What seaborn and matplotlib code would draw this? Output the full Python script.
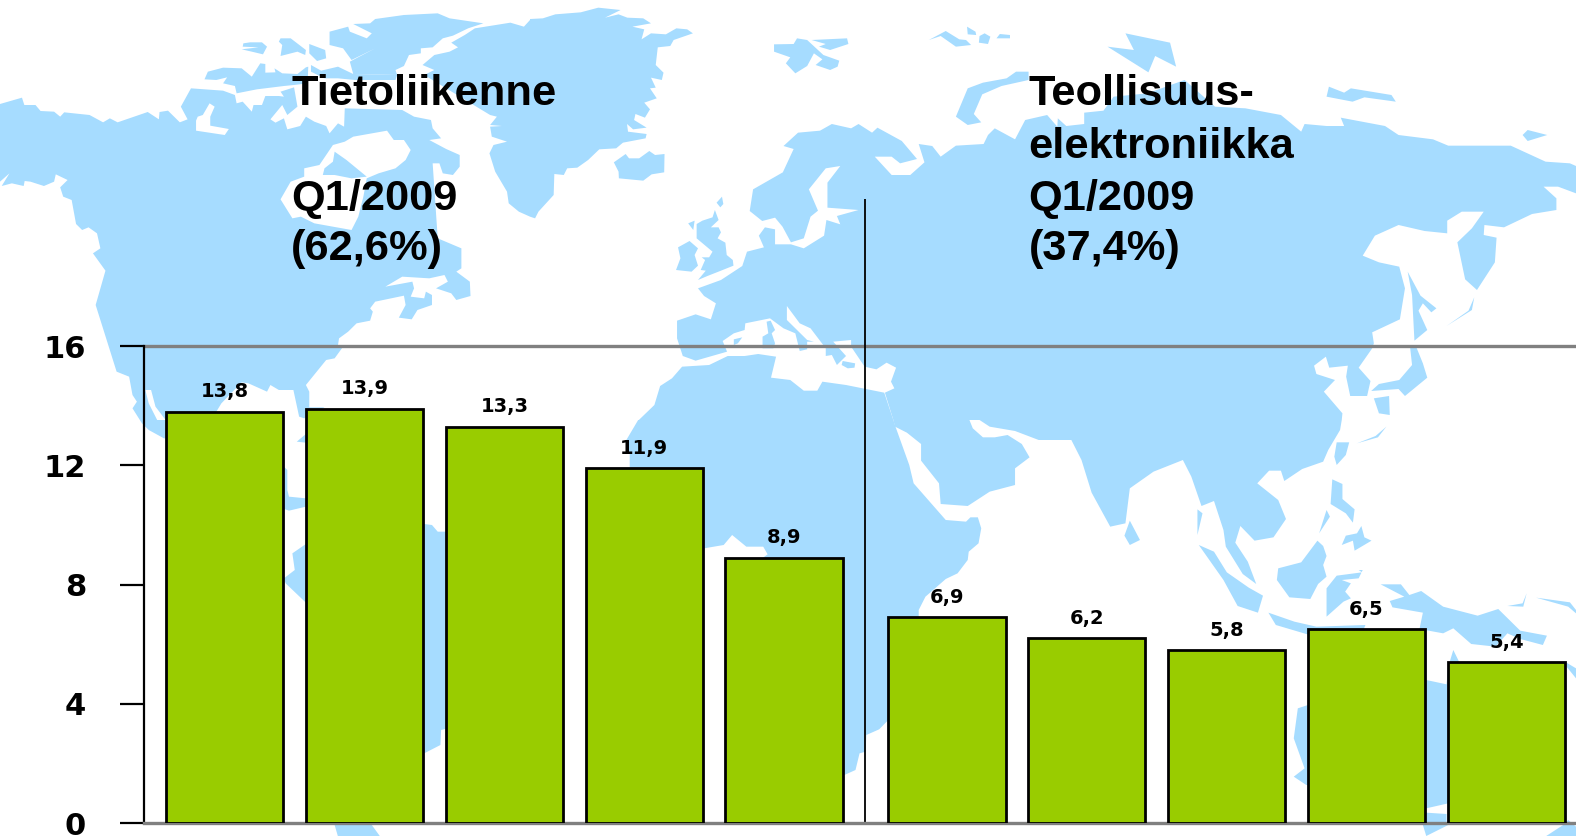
import matplotlib
matplotlib.use("Agg")
import matplotlib.pyplot as plt
import numpy as np
import pandas as pd
import seaborn as sns

# ---- chart data ----
values_tele = [13.8, 13.9, 13.3, 11.9, 8.9]
values_ind = [6.9, 6.2, 5.8, 6.5, 5.4]
y_ticks = [0, 4, 8, 12, 16]
left_title = ["Tietoliikenne", "", "Q1/2009", "(62,6%)"]
right_title = ["Teollisuus-", "elektroniikka", "Q1/2009", "(37,4%)"]

GREEN = "#99CC00"
LAND = "#A6DCFF"
W, H = 1576, 836
sns.set_theme(style="white")
plt.rcParams["font.family"] = ["Liberation Sans", "DejaVu Sans"]

def T(ox, pts, dy=0):
    return [(ox + x / 2.9585, (y + dy) / 3) for x, y in pts]

# ---- background world map (decorative outline, traced) ----
north_america = T(0, [(0,312),(65,293),(72,315),(105,315),(120,333),(160,335),(178,350),(190,337),(265,345),(305,367),(325,355),(348,367),(437,336),(470,358),(472,336),(497,332),(532,367),(555,358),(535,320),(565,265),(660,272),(695,285),(700,310),(718,305),(745,335),(750,315),(775,315),(785,288),(825,288),(840,290),(830,275),(870,262),(880,320),(850,345),(835,315),(800,358),(815,368),(840,355),(850,388),(888,378),(905,350),(930,365),(965,378),(975,400),(1000,370),(1018,380),(1020,325),(1190,330),(1225,350),(1275,360),(1280,385),(1305,415),(1270,420),(1320,447),(1360,465),(1360,500),(1340,525),(1310,520),(1300,490),(1280,490),(1290,640),(1295,715),(1365,745),(1365,805),(1350,815),(1390,845),(1392,888),(1350,900),(1335,880),(1290,865),(1325,845),(1315,825),(1270,835),(1190,830),(1140,860),(1220,845),(1225,865),(1215,890),(1255,895),(1260,875),(1278,885),(1278,915),(1235,930),(1218,958),(1180,953),(1200,915),(1195,887),(1110,905),(1095,925),(1103,935),(1095,962),(1055,970),(1030,995),(1003,1015),(1000,1035),(1015,1040),(990,1075),(965,1080),(905,1155),(915,1175),(915,1222),(960,1222),(900,1255),(885,1250),(868,1170),(825,1170),(800,1155),(790,1175),(735,1150),(715,1147),(655,1210),(640,1235),(600,1320),(485,1315),(440,1290),(420,1270),(392,1225),(405,1205),(392,1185),(382,1130),(345,1115),(283,915),(312,812),(275,760),(297,745),(287,700),(262,682),(243,690),(225,672),(212,600),(187,590),(178,562),(200,540),(165,523),(160,545),(130,558),(90,545),(73,543),(70,558),(35,550),(5,558),(28,520),(0,545)])
hudson = T(0, [(1020,425),(1045,410),(1145,392),(1165,420),(1195,420),(1215,450),(1200,480),(1170,505),(1120,520),(1085,535),(1075,590),(1060,650),(1040,690),(930,670),(890,650),(865,655),(830,598),(860,545),(900,530),(900,505),(945,495),(985,435)])
hudson_inner = T(0, [(990,455),(1025,480),(1085,530),(1040,535),(990,525),(955,525),(960,505),(985,485)])
arctic_bay = T(0, [(580,362),(585,350),(600,345),(620,310),(635,320),(622,350),(622,377),(677,387),(665,405),(580,392)])
baja = T(0, [(430,1170),(447,1170),(460,1220),(490,1260),(465,1260),(440,1210)])
canada_islands = [T(0, p) for p in [
    [(605,238),(615,215),(660,203),(715,205),(745,230),(770,190),(785,192),(785,218),(815,217),(812,205),(835,220),(880,222),(905,202),(912,200),(910,250),(870,255),(840,258),(760,268),(700,280),(695,258),(660,250),(672,232),(640,240)],
    [(720,130),(740,127),(775,127),(790,140),(778,163),(745,155),(715,148),(765,142),(718,140)],
    [(830,115),(860,115),(905,150),(903,165),(880,155),(830,168),(835,135),(825,125)],
    [(915,132),(962,150),(965,175),(938,183),(915,160)],
    [(920,195),(950,212),(1000,200),(1045,222),(1175,225),(1170,240),(1050,240),(1000,235),(960,235),(920,215)],
    [(975,95),(1030,80),(1035,95),(1085,115),(1100,100),(1045,72),(1095,70),(1110,57),(1195,45),(1295,40),(1330,55),(1430,70),(1385,85),(1340,107),(1310,115),(1280,142),(1245,145),(1245,160),(1210,165),(1195,198),(1170,210),(1175,225),(1045,222),(1035,185),(1110,145),(1040,180),(1015,145),(975,135)],
]]
greenland = T(530, [(0,650),(15,655),(25,635),(70,585),(72,522),(100,525),(110,505),(140,503),(172,480),(205,448),(255,445),(275,428),(342,415),(345,402),(290,395),(287,372),(305,388),(345,383),(308,360),(312,342),(340,353),(355,328),(338,308),(375,295),(355,265),(372,263),(358,233),(390,240),(395,218),(372,195),(378,142),(415,138),(425,120),(482,100),(465,88),(433,85),(402,103),(358,100),(330,118),(338,88),(303,80),(358,70),(335,55),(288,53),(262,43),(222,53),(268,30),(202,23),(150,37),(75,43),(38,55),(0,57)]) + \
    T(0, [(1568,60),(1550,80),(1510,68),(1405,85),(1375,105),(1335,128),(1355,142),(1330,155),(1285,165),(1250,195),(1285,210),(1255,225),(1450,345),(1470,350),(1450,375),(1485,378),(1450,380),(1455,410),(1500,425),(1460,435),(1448,460),(1465,515),(1500,575),(1505,610),(1535,635),(1568,650)])
central_america = [T(0, [(840,140),(850,150),(850,210),(855,230),(905,235),(905,260),(855,272),(835,265)], 1260),
                   T(0, [(878,65),(905,42),(905,68)], 1260)]
south_america = T(0, [(905,372),(865,400),(872,450),(840,475),(845,490),(905,548),(990,1215),(1000,1250),(1125,1250),(1100,1215),(1255,1000),(1303,975),(1305,930),(1325,925),(1325,335),(1295,335),(1278,315),(1255,312),(1100,300)], 1260)
eurasia = T(530, [(750,438),(793,398),(858,392),(893,372),(950,385),(972,372),(1012,398),(1028,383),(1100,423),(1145,477),(1095,490),(1070,470),(1020,470),(1070,525),(1125,525),(1167,487),(1150,432),(1190,438),(1215,470),(1260,437),(1342,432),(1355,405),(1375,385),(1435,418),(1465,360),(1530,345),(1560,380)]) + \
    T(1046, [(35,355),(60,378),(113,372),(113,338),(170,332),(200,290),(300,280),(410,240),(500,320),(590,325),(695,345),(755,395),(765,372),(830,378),(882,378),(872,353),(1003,378),(1043,405),(1145,418),(1190,437),(1375,437),(1478,485),(1550,490),(1568,498),(1568,580),(1515,560),(1472,560),(1510,595),(1510,630),(1438,642),(1355,682),(1297,675),(1295,705),(1333,713),(1328,787),(1275,870),(1240,838),(1217,727),(1260,685),(1295,635),(1230,635),(1187,662),(1187,700),(1120,693),(1043,675),(973,707),(937,767),(985,787),(1045,800),(1062,865),(1047,958),(965,997),(970,1030),(965,1045),(925,1103),(960,1143),(950,1188),(900,1188),(888,1130),(893,1097),(838,1103),(828,1070),(793,1097),(800,1122),(855,1140),(822,1175),(877,1240),(875,1260)]) + \
    T(1046, [(870,30),(835,90),(820,125),(758,147),(705,183),(695,152),(660,152),(625,190),(687,240),(710,297),(673,352),(617,362),(575,318),(560,368),(597,425),(622,492),(582,462),(532,380),(525,330),(497,243),(460,258),(430,170),(405,120),(318,155),(248,205),(235,310),(190,320),(135,218),(105,120),(75,60),(0,60)], 1260) + \
    T(530, [(1505,60),(1435,33),(1360,20),(1330,0),(1300,0),(1310,25),(1340,52),(1375,52),(1413,45),(1455,72),(1478,112),(1435,145),(1435,195),(1360,215),(1295,258),(1215,252),(1210,190),(1157,122),(1157,72),(1115,38),(1080,20),(1075,0)], 1260) + \
    T(530, [(1050,1178),(1078,1165),(1068,1145),(1083,1103),(1055,1088),(1025,1108),(990,1100),(950,1040),(950,1020),(897,1025),(935,1068),(908,1095),(893,1065),(875,1068),(875,1045),(830,985),(798,970),(760,918),(760,960),(820,1020),(840,1025),(820,1025),(820,1048),(798,1053),(785,1000),(750,985),(710,955),(637,970),(635,990),(603,1000),(570,1023),(583,1055),(490,1082),(452,1068),(435,1015),(435,962),(490,943),(535,958),(550,910),(515,888),(497,865),(565,840),(628,798),(642,755),(692,742),(677,707),(695,682),(725,688),(725,733),(772,733),(810,745),(870,707),(877,660),(918,673),(908,648),(972,630),(880,623),(880,548),(918,498),(875,505),(825,568),(852,632),(830,650),(810,715),(772,727),(747,680),(725,653),(687,663),(650,633),(660,568),(748,517),(780,447)])
africa = T(530, [(322,1260),(368,1215),(385,1158),(420,1135),(450,1100),(530,1095),(585,1068),(635,1068),(675,1062),(728,1070),(713,1133),(770,1140),(810,1172),(850,1172),(865,1145),(935,1155),(1048,1178),(1075,1260)]) + \
    T(530, [(1082,22),(1122,135),(1135,190),(1230,300),(1290,305),(1303,292),(1325,292),(1335,325),(1327,370),(1298,395),(1295,420),(1265,460),(1230,477),(1170,530),(1150,570),(1150,600),(1060,900),(1033,928),(995,945),(993,995),(975,1000),(963,1050),(930,1065),(800,1100),(700,700),(680,420),(703,403),(690,380),(640,380),(598,345),(573,375),(515,385),(400,380),(295,140),(295,100),(285,60),(320,0)], 1260)
islands_z2 = [T(530, p) for p in [
    [(493,672),(510,662),(540,652),(547,630),(558,660),(535,682),(558,682),(565,697),(555,715),(578,728),(582,765),(600,780),(602,797),(565,812),(525,828),(497,840),(520,812),(505,810),(518,780),(508,772),(530,772),(540,755),(493,715)],
    [(438,742),(472,723),(497,745),(487,765),(497,797),(478,815),(432,810),(445,775)],
    [(468,670),(487,662),(483,690)],
    [(552,608),(568,590),(572,612),(563,622)],
    [(248,487),(283,462),(293,475),(323,475),(353,453),(370,465),(398,462),(397,517),(360,523),(335,542),(263,535),(262,515)],
    [(722,133),(780,132),(790,115),(820,120),(868,165),(915,182),(910,200),(888,210),(845,195),(865,178),(840,160),(820,198),(785,220),(757,190),(770,172),(722,155)],
    [(833,120),(938,115),(942,132),(888,150),(855,140),(875,132)],
    [(1180,120),(1230,93),(1270,118),(1290,120),(1305,135),(1260,140),(1215,108)],
    [(1293,80),(1318,95),(1320,105),(1295,103)],
    [(1330,108),(1345,100),(1362,110),(1355,132),(1328,128)],
    [(1380,115),(1390,102),(1420,105),(1420,115)],
    [(1260,350),(1295,265),(1340,248),(1410,235),(1438,215),(1475,215),(1475,240),(1395,258),(1338,283),(1313,342),(1335,367),(1295,375)],
    [(700,965),(712,962),(725,990),(715,1000),(725,1030),(720,1045),(688,1045),(688,1010),(705,1000)],
    [(603,1018),(628,1012),(615,1030),(603,1035)],
    [(925,1083),(962,1090),(960,1103),(940,1105),(922,1095)],
]]
islands_z3 = [T(1046, p) for p in [
    [(182,140),(260,150),(235,100),(367,128),(385,200),(323,168),(303,217)],
    [(830,290),(837,260),(882,278),(902,265),(1022,285),(1035,305),(942,292),(907,305)],
    [(1410,405),(1425,390),(1483,405),(1425,423)],
    [(1070,815),(1108,887),(1155,925),(1140,937),(1115,910),(1102,932),(1128,990),(1090,1022),(1083,885)],
    [(1185,978),(1250,932),(1267,892),(1260,930)],
    [(970,1195),(1015,1188),(1017,1245),(985,1240)],
    [(1077,1040),(1095,1040),(1115,1090),(1128,1133),(1062,1188),(1043,1167),(962,1173),(985,1152),(1045,1140),(1083,1095)],
]]
islands_z6 = [T(1046, p, 1260) for p in [
    [(860,67),(897,67),(887,105),(860,135),(853,110)],
    [(920,70),(975,48),(1007,20),(982,52)],
    [(847,178),(877,192),(877,237),(913,268),(908,308),(887,280),(842,252)],
    [(830,270),(840,290),(808,340)],
    [(875,375),(887,347),(920,340),(933,318),(942,352),(963,362),(913,392),(908,362)],
    [(248,302),(278,360),(248,375),(232,347)],
    [(448,268),(463,280),(448,345)],
    [(452,375),(497,395),(535,457),(600,503),(642,527),(627,578),(567,558),(525,480)],
    [(658,578),(735,605),(800,620),(945,615),(935,640),(780,645),(680,615)],
    [(803,362),(820,378),(830,408),(820,435),(830,470),(805,492),(782,537),(720,532),(683,480),(687,445),(755,427)],
    [(860,467),(935,457),(925,450),(937,450),(925,475),(875,480),(902,490),(885,515),(902,535),(880,545),(830,590),(830,505)],
    [(990,493),(1050,493),(1075,525),(1110,513),(1175,560),(1277,587),(1338,567),(1403,632),(1482,647),(1470,675),(1403,657),(1365,640),(1330,680),(1258,672),(1205,625),(1175,640),(1105,627),(1115,578),(1025,562),(1017,543),(1060,530)],
    [(1365,558),(1410,550),(1422,520),(1412,560)],
    [(1450,533),(1550,547),(1568,570),(1568,580),(1545,560)],
    [(745,865),(790,850),(950,800),(1125,780),(1185,793),(1190,740),(1205,690),(1222,725),(1400,900),(1400,1100),(1190,1150),(1125,1165),(900,1100),(770,1095),(733,1070),(765,1045),(733,955)],
    [(1125,1178),(1185,1182),(1185,1215),(1125,1215)],
    [(1540,728),(1568,745),(1568,775),(1540,740)],
    [(1115,1215),(1190,1215),(1125,1248)],
    [(1480,1248),(1530,1215),(1545,1200),(1568,1220),(1568,1248)],
]]
lands = [north_america, greenland, south_america, eurasia, africa] + canada_islands + central_america + islands_z2 + islands_z3 + islands_z6
seas = [hudson, arctic_bay, baja]

fig = plt.figure(figsize=(W / 100, H / 100), dpi=100, facecolor="white")
bg = fig.add_axes([0, 0, 1, 1], zorder=0)
bg.set_xlim(0, W)
bg.set_ylim(H, 0)
bg.axis("off")
for shape in lands:
    bg.fill(*zip(*shape), color=LAND, lw=0)
for shape in seas:
    bg.fill(*zip(*shape), color="white", lw=0)
bg.fill(*zip(*hudson_inner), color=LAND, lw=0)

# ---- bar chart ----
AX_L, AX_B, AX_T = 143.5, H - 823.3, H - 346.0
ax = fig.add_axes([AX_L / W, AX_B / H, (W - AX_L) / W, (AX_T - AX_B) / H], zorder=1)
ax.patch.set_alpha(0)

group_gap = 0.162
n1, n2 = len(values_tele), len(values_ind)
positions = np.r_[np.arange(n1), np.arange(n1, n1 + n2) + group_gap]
df = pd.DataFrame({"pos": positions, "value": values_tele + values_ind})
sns.barplot(data=df, x="pos", y="value", native_scale=True, width=0.84, color=GREEN,
            saturation=1, edgecolor="black", linewidth=2.0, ax=ax, zorder=3)

unit = 139.9
x0 = (AX_L - 224.6) / unit
ax.set_xlim(x0, x0 + (W - AX_L) / unit)
ax.set_ylim(0, 16)
ax.set_xlabel("")
ax.set_ylabel("")
ax.set_xticks([])
ax.set_yticks(y_ticks)
ax.tick_params(axis="y", length=17.3, width=1.6, color="black", pad=24, left=True)
for lab in ax.get_yticklabels():
    lab.set_fontfamily("DejaVu Sans")
    lab.set_fontweight("bold")
    lab.set_fontsize(22)
    lab.set_color("black")
for s in ("top", "right"):
    ax.spines[s].set_visible(False)
ax.spines["left"].set_color("black")
ax.spines["left"].set_linewidth(1.6)
ax.spines["bottom"].set_color("#808080")
ax.spines["bottom"].set_linewidth(2.4)
ax.axhline(16, color="#808080", lw=2.4, clip_on=False, zorder=1)

mid = (positions[n1 - 1] + positions[n1]) / 2
ax.vlines(mid, 0, 20.93, color="black", lw=1.3, clip_on=False, zorder=2)

labels = [f"{v:.1f}".replace(".", ",") for v in values_tele + values_ind]
ax.bar_label(ax.containers[0], labels=labels, padding=7.5, fontfamily="DejaVu Sans",
             fontweight="bold", fontsize=14, color="black")

baselines = [105, 157.5, 210, 260]
for lines, xpos in ((left_title, 291), (right_title, 1028.6)):
    for line, base in zip(lines, baselines):
        if line:
            fig.text(xpos / W, 1 - base / H, line, fontsize=31.2, fontweight="bold",
                     color="black", ha="left", va="baseline", zorder=5)

fig.savefig("out.png", dpi=100, facecolor="white")
